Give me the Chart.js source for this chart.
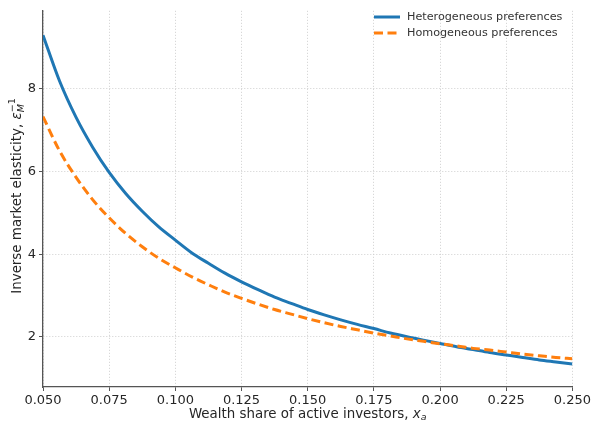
<!DOCTYPE html>
<html>
<head>
<meta charset="utf-8">
<script src="https://cdn.jsdelivr.net/npm/chart.js@4"></script>
<style>
  html, body { margin: 0; padding: 0; background: #fff; }
  #wrap { width: 593px; height: 429px; }
</style>
</head>
<body>
<div id="wrap"><canvas id="elasticityChart" width="593" height="429"></canvas></div>
<script>
// wealth share of active investors (step 0.00625)
const shares = [0.05, 0.05625, 0.0625, 0.06875, 0.075, 0.08125, 0.0875, 0.09375,
                0.1, 0.10625, 0.1125, 0.11875, 0.125, 0.13125, 0.1375, 0.14375,
                0.15, 0.15625, 0.1625, 0.16875, 0.175, 0.18125, 0.1875, 0.19375,
                0.2, 0.20625, 0.2125, 0.21875, 0.225, 0.23125, 0.2375, 0.24375, 0.25];
const heterogeneous = [9.3, 8.19, 7.31, 6.59, 5.98, 5.47, 5.04, 4.66,
                       4.34, 4.03, 3.78, 3.54, 3.33, 3.14, 2.96, 2.81,
                       2.66, 2.53, 2.41, 2.30, 2.20, 2.09, 2.0, 1.92,
                       1.84, 1.76, 1.69, 1.62, 1.56, 1.50, 1.44, 1.39, 1.34];
const homogeneous = [7.33, 6.5, 5.86, 5.32, 4.88, 4.5, 4.18, 3.9,
                     3.67, 3.45, 3.26, 3.08, 2.93, 2.79, 2.66, 2.55,
                     2.44, 2.34, 2.25, 2.17, 2.09, 2.02, 1.95, 1.89,
                     1.83, 1.78, 1.72, 1.68, 1.63, 1.58, 1.54, 1.50, 1.47];
const xTicks = [0.05, 0.075, 0.1, 0.125, 0.15, 0.175, 0.2, 0.225, 0.25];
const yTicks = [2, 4, 6, 8];

const blue = '#1f77b4';
const orange = '#ff7f0e';
const FONT = 'DejaVu Sans';

function pts(ys) {
  return shares.map(function (x, i) { return { x: x, y: ys[i] }; });
}

// draws a label made of pieces (for sub/superscripts)
function drawRich(ctx, parts, cx, cy, rotate) {
  ctx.save();
  ctx.translate(cx, cy);
  if (rotate) ctx.rotate(-Math.PI / 2);
  let total = 0;
  parts.forEach(function (p) {
    ctx.font = p.font;
    p.w = ctx.measureText(p.text).width;
    if (!p.stack) total += p.w;
  });
  let x = -total / 2;
  let last = 0;
  ctx.fillStyle = '#262626';
  ctx.textBaseline = 'middle';
  ctx.textAlign = 'left';
  parts.forEach(function (p) {
    ctx.font = p.font;
    if (p.stack) {
      ctx.fillText(p.text, x - last, (p.dy || 0));
    } else {
      ctx.fillText(p.text, x, (p.dy || 0));
      last = p.w;
      x += p.w;
    }
  });
  ctx.restore();
}

const extras = {
  id: 'extras',
  afterDraw: function (chart) {
    const ctx = chart.ctx;
    const area = chart.chartArea;

    // axis titles
    drawRich(ctx, [
      { text: 'Wealth share of active investors, ', font: '13.4px ' + FONT },
      { text: 'x', font: 'italic 13.4px ' + FONT },
      { text: 'a', font: 'italic 9.5px ' + FONT, dy: 3.5 }
    ], (area.left + area.right) / 2, 414.5, false);

    drawRich(ctx, [
      { text: 'Inverse market elasticity, ', font: '13.4px ' + FONT },
      { text: 'ε', font: 'italic 13.4px ' + FONT },
      { text: 'M', font: 'italic 9.5px ' + FONT, dy: 3.5 },
      { text: '−1', font: '9.5px ' + FONT, dy: -5.5, stack: true }
    ], 18, (area.top + area.bottom) / 2, true);

    // legend
    ctx.save();
    ctx.font = '11.2px ' + FONT;
    ctx.fillStyle = '#333';
    ctx.textBaseline = 'middle';
    const rows = [
      { label: 'Heterogeneous preferences', color: blue, dash: [], y: 17 },
      { label: 'Homogeneous preferences', color: orange, dash: [9, 4.5], y: 33 }
    ];
    rows.forEach(function (r) {
      ctx.strokeStyle = r.color;
      ctx.lineWidth = 3;
      ctx.setLineDash(r.dash);
      ctx.beginPath();
      ctx.moveTo(374, r.y);
      ctx.lineTo(400, r.y);
      ctx.stroke();
      ctx.setLineDash([]);
      ctx.fillText(r.label, 407, r.y);
    });
    ctx.restore();
  }
};

const ctx = document.getElementById('elasticityChart').getContext('2d');
const elasticityChart = new Chart(ctx, {
  type: 'line',
  data: {
    datasets: [{
      label: 'Heterogeneous preferences',
      data: pts(heterogeneous),
      borderColor: blue,
      borderWidth: 3,
      pointRadius: 0,
      cubicInterpolationMode: 'monotone',
      fill: false,
      order: 1
    }, {
      label: 'Homogeneous preferences',
      data: pts(homogeneous),
      borderColor: orange,
      borderWidth: 3,
      borderDash: [9, 4.5],
      pointRadius: 0,
      cubicInterpolationMode: 'monotone',
      fill: false,
      order: 0
    }]
  },
  options: {
    responsive: false,
    maintainAspectRatio: false,
    animation: false,
    layout: { padding: { top: 2, right: 20, left: 0, bottom: 0 } },
    plugins: {
      legend: { display: false },
      tooltip: { enabled: false }
    },
    scales: {
      x: {
        type: 'linear',
        min: 0.05,
        max: 0.25,
        afterBuildTicks: function (scale) {
          scale.ticks = xTicks.map(function (v) { return { value: v }; });
        },
        afterFit: function (scale) { scale.height = 42; },
        ticks: {
          font: { family: FONT, size: 13 },
          color: '#262626',
          padding: 2,
          maxRotation: 0,
          autoSkip: false,
          callback: function (v) { return v.toFixed(3); }
        },
        grid: {
          color: '#cfcfcf',
          lineWidth: 1,
          tickLength: 4,
          tickColor: '#555'
        },
        border: { display: true, color: '#555', width: 1.3, dash: [1, 2] }
      },
      y: {
        type: 'linear',
        min: 0.785,
        max: 9.89,
        afterBuildTicks: function (scale) {
          scale.ticks = yTicks.map(function (v) { return { value: v }; });
        },
        afterFit: function (scale) { scale.width = 43; },
        ticks: {
          font: { family: FONT, size: 13 },
          color: '#262626',
          padding: 3
        },
        grid: {
          color: '#cfcfcf',
          lineWidth: 1,
          tickLength: 4,
          tickColor: '#555'
        },
        border: { display: true, color: '#555', width: 1.3, dash: [1, 2] }
      }
    }
  },
  plugins: [extras]
});
</script>
</body>
</html>
